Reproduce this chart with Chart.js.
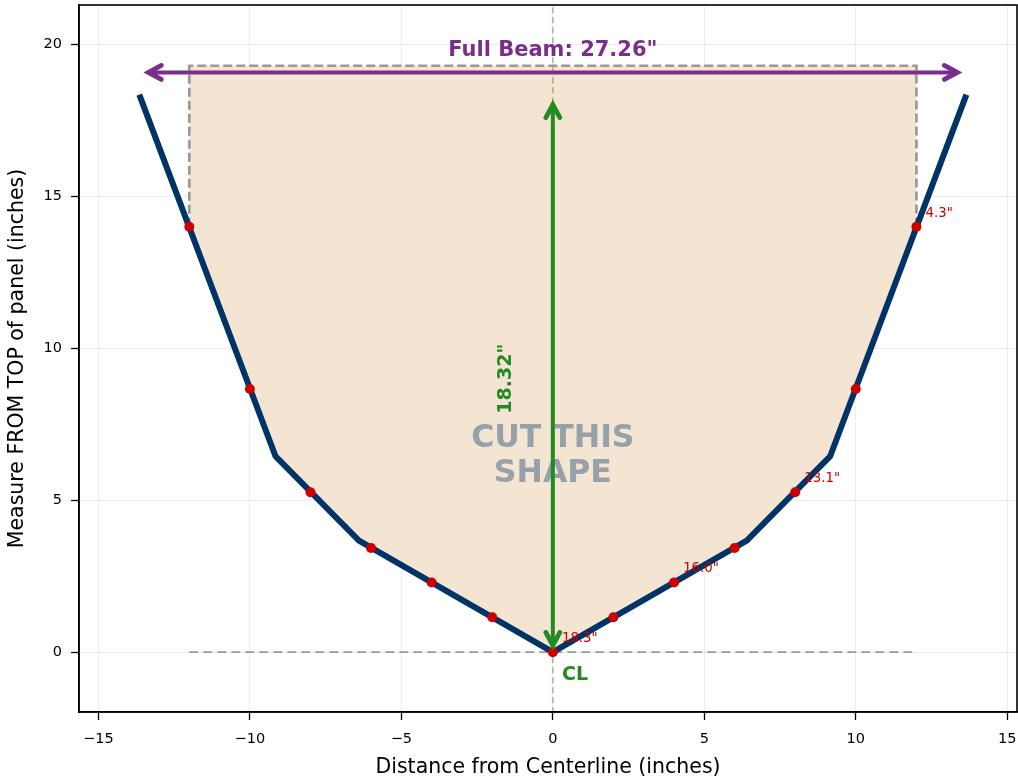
<!DOCTYPE html>
<html>
<head>
<meta charset="utf-8">
<script src="https://cdn.jsdelivr.net/npm/chart.js@4/dist/chart.umd.min.js"></script>
<style>
  html, body { margin: 0; padding: 0; background: #fff; }
  canvas { display: block; }
</style>
</head>
<body>
<canvas id="panelChart" width="1018" height="782"></canvas>
<script>
// hull outline (vertices only)
const hullX = [-13.65, -9.15, -6.4, 0, 6.4, 9.15, 13.65];
const hullY = [18.35, 6.44, 3.67, 0, 3.67, 6.44, 18.35];

// measured stations along the panel
const stationX = [-12, -10, -8, -6, -4, -2, 0, 2, 4, 6, 8, 10, 12];
const stationY = [14.0, 8.66, 5.26, 3.43, 2.29, 1.15, 0, 1.15, 2.29, 3.43, 5.26, 8.66, 14.0];

// cut region, filled up to the top line
const cutX = [-12, -9.15, -6.4, 0, 6.4, 9.15, 12];
const cutY = [14.0, 6.44, 3.67, 0, 3.67, 6.44, 14.0];
const topLine = 19.3;
const halfBeam = 12;

// labelled stations: remaining depth
const labelX = [0, 4, 8, 12];
const labelY = [0, 2.29, 5.26, 14.0];
const labelText = ['18.3"', '16.0"', '13.1"', '4.3"'];

const beamText = 'Full Beam: 27.26"';
const depthText = '18.32"';
const beamArrow = [-13.35, 13.35, 19.08];
const depthArrow = [0.22, 18.02];

const xTicks = [-15, -10, -5, 0, 5, 10, 15];
const yTicks = [0, 5, 10, 15, 20];

const FONT = '"DejaVu Sans", Verdana, sans-serif';
const NAVY = '#003366';
const GREEN = '#228b22';
const PURPLE = '#7b2d8e';
const GRAY = '#999999';

const pts = (xs, ys) => xs.map((v, i) => ({ x: v, y: ys[i] }));
const fmt = v => String(v).replace('-', '\u2212');

function arrowHead(ctx, x1, y1, x2, y2, len, half) {
    // open chevron at (x2,y2) pointing away from (x1,y1)
    const a = Math.atan2(y2 - y1, x2 - x1);
    ctx.beginPath();
    ctx.moveTo(x2 - len * Math.cos(a) + half * Math.sin(a), y2 - len * Math.sin(a) - half * Math.cos(a));
    ctx.lineTo(x2, y2);
    ctx.lineTo(x2 - len * Math.cos(a) - half * Math.sin(a), y2 - len * Math.sin(a) + half * Math.cos(a));
    ctx.stroke();
}

function doubleArrow(ctx, x1, y1, x2, y2, color, width) {
    ctx.strokeStyle = color;
    ctx.lineWidth = width;
    ctx.lineCap = 'butt';
    ctx.lineJoin = 'miter';
    ctx.beginPath();
    ctx.moveTo(x1, y1);
    ctx.lineTo(x2, y2);
    ctx.stroke();
    ctx.lineCap = 'round';
    ctx.lineWidth = width + 0.8;
    arrowHead(ctx, x1, y1, x2, y2, 13, 7);
    arrowHead(ctx, x2, y2, x1, y1, 13, 7);
}

const annotate = {
    id: 'annotate',
    afterDatasetsDraw(chart) {
        const ctx = chart.ctx;
        const sx = chart.scales.x, sy = chart.scales.y;
        const px = v => sx.getPixelForValue(v);
        const py = v => sy.getPixelForValue(v);
        ctx.save();

        // big hint text sits under the arrows
        ctx.fillStyle = '#97a1a9';
        ctx.font = 'bold 31.5px ' + FONT;
        ctx.textAlign = 'center';
        ctx.textBaseline = 'middle';
        ctx.fillText('CUT THIS', px(0), py(6.52) - 15);
        ctx.fillText('SHAPE', px(0), py(6.52) + 20);

        // depth arrow
        doubleArrow(ctx, px(0), py(depthArrow[0]), px(0), py(depthArrow[1]), GREEN, 4);
        // beam arrow
        doubleArrow(ctx, px(beamArrow[0]), py(beamArrow[2]), px(beamArrow[1]), py(beamArrow[2]), PURPLE, 4);

        ctx.fillStyle = PURPLE;
        ctx.font = 'bold 21px ' + FONT;
        ctx.fillText(beamText, px(0), py(19.8));

        ctx.save();
        ctx.translate(px(-1.55), py(9.0));
        ctx.rotate(-Math.PI / 2);
        ctx.fillStyle = GREEN;
        ctx.font = 'bold 19px ' + FONT;
        ctx.fillText(depthText, 0, 0);
        ctx.restore();

        ctx.fillStyle = GREEN;
        ctx.font = 'bold 19px ' + FONT;
        ctx.textAlign = 'left';
        ctx.fillText('CL', px(0.3), py(-0.77));

        ctx.fillStyle = '#cc0000';
        ctx.font = '13.3px ' + FONT;
        labelX.forEach((v, i) => {
            ctx.fillText(labelText[i], px(v + 0.3), py(labelY[i] + 0.45));
        });
        ctx.restore();
    },
    afterDraw(chart) {
        const a = chart.chartArea;
        const ctx = chart.ctx;
        ctx.save();
        ctx.strokeStyle = '#000';
        ctx.lineWidth = 1.6;
        ctx.strokeRect(a.left, a.top, a.right - a.left, a.bottom - a.top);
        ctx.restore();
    }
};

const ctx = document.getElementById('panelChart').getContext('2d');
const panelChart = new Chart(ctx, {
    type: 'scatter',
    data: {
        datasets: [
            {
                // stations
                data: pts(stationX, stationY),
                pointRadius: 5,
                pointBackgroundColor: '#cc0000',
                pointBorderWidth: 0,
                showLine: false,
                order: 0
            },
            {
                // hull outline
                data: pts(hullX, hullY),
                showLine: true,
                borderColor: NAVY,
                borderWidth: 6,
                borderJoinStyle: 'round',
                borderCapStyle: 'butt',
                pointRadius: 0,
                order: 1
            },
            {
                // dashed top / sides
                data: pts([-halfBeam, -halfBeam, halfBeam, halfBeam], [14.0, topLine, topLine, 14.0]),
                showLine: true,
                borderColor: GRAY,
                borderWidth: 2.7,
                borderDash: [9, 4],
                pointRadius: 0,
                order: 2
            },
            {
                // baseline at centerline bottom
                data: pts([-halfBeam, halfBeam], [0, 0]),
                showLine: true,
                borderColor: GRAY,
                borderWidth: 1.6,
                borderDash: [9, 5],
                pointRadius: 0,
                order: 3
            },
            {
                // centerline
                data: pts([0, 0], [-3, 23]),
                showLine: true,
                borderColor: 'rgba(34,139,34,0.45)',
                borderWidth: 1.6,
                borderDash: [6, 4],
                pointRadius: 0,
                order: 4
            },
            {
                // cut region
                data: pts(cutX, cutY),
                showLine: true,
                borderWidth: 0,
                borderColor: 'rgba(0,0,0,0)',
                backgroundColor: '#f4e4d2',
                fill: { value: topLine },
                pointRadius: 0,
                order: 5
            }
        ]
    },
    options: {
        responsive: false,
        animation: false,
        devicePixelRatio: 1,
        layout: { autoPadding: false, padding: { top: 5, right: 1, left: 0, bottom: 0 } },
        plugins: {
            legend: { display: false },
            tooltip: { enabled: false }
        },
        scales: {
            x: {
                type: 'linear',
                min: -15.64,
                max: 15.32,
                afterBuildTicks: s => { s.ticks = xTicks.map(v => ({ value: v })); },
                afterFit: s => { s.height = 70; s.paddingLeft = 0; s.paddingRight = 0; },
                ticks: {
                    color: '#000',
                    font: { family: FONT, size: 14.5 },
                    padding: 11,
                    maxRotation: 0,
                    callback: fmt
                },
                grid: {
                    color: 'rgba(0,0,0,0.07)',
                    lineWidth: 1,
                    drawTicks: true,
                    tickLength: 8,
                    tickColor: '#000',
                    tickWidth: 1.3
                },
                border: { display: true, color: '#000', width: 1.6 },
                title: {
                    display: true,
                    text: 'Distance from Centerline (inches)',
                    color: '#000',
                    font: { family: FONT, size: 20.5 },
                    padding: { top: 2, bottom: 2 }
                }
            },
            y: {
                type: 'linear',
                min: -1.97,
                max: 21.3,
                afterBuildTicks: s => { s.ticks = yTicks.map(v => ({ value: v })); },
                afterFit: s => { s.width = 79; s.paddingTop = 0; s.paddingBottom = 0; },
                ticks: {
                    color: '#000',
                    font: { family: FONT, size: 14.5 },
                    padding: 9,
                    callback: fmt
                },
                grid: {
                    color: 'rgba(0,0,0,0.07)',
                    lineWidth: 1,
                    drawTicks: true,
                    tickLength: 8,
                    tickColor: '#000',
                    tickWidth: 1.3
                },
                border: { display: true, color: '#000', width: 1.6 },
                title: {
                    display: true,
                    text: 'Measure FROM TOP of panel (inches)',
                    color: '#000',
                    font: { family: FONT, size: 20.5 },
                    padding: { top: 5, bottom: 2 }
                }
            }
        }
    },
    plugins: [annotate]
});
</script>
</body>
</html>
